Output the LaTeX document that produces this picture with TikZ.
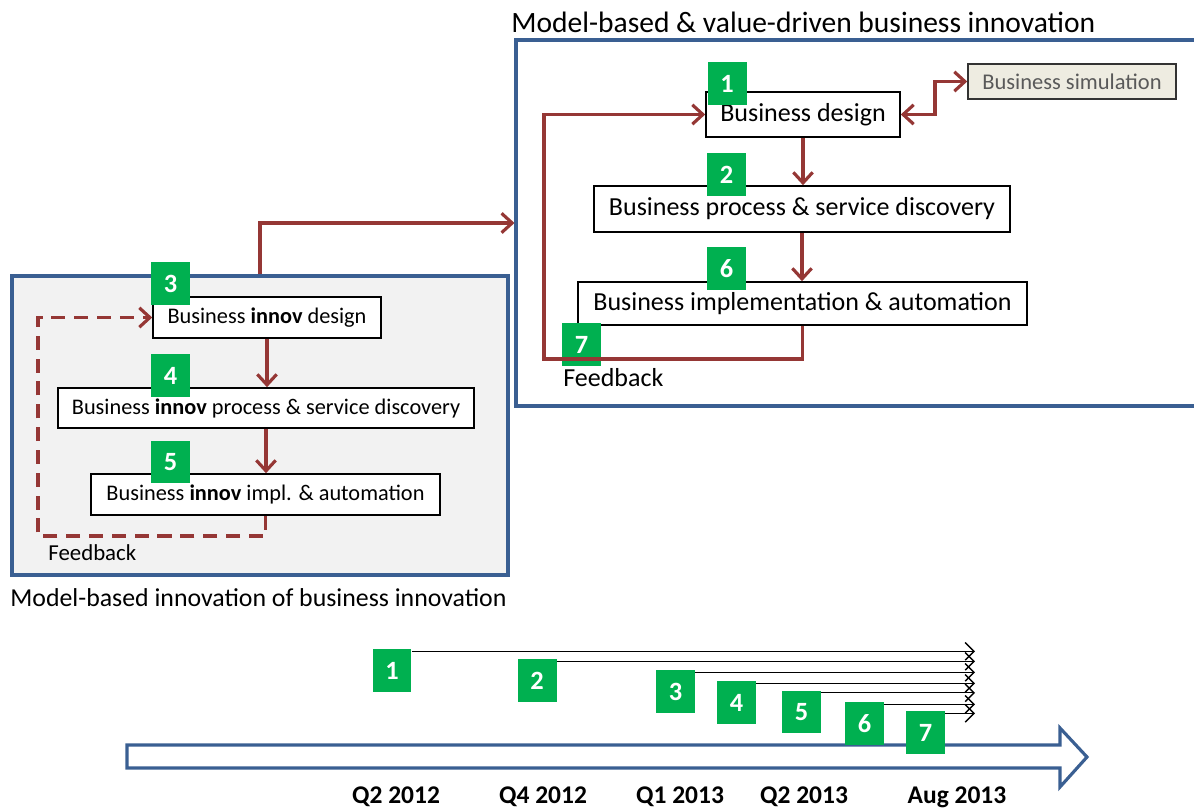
\documentclass[tikz,border=0pt]{standalone}
\usepackage{fontspec}
\setmainfont{Carlito}
\usetikzlibrary{arrows.meta,positioning}
\definecolor{flowred}{HTML}{953735}
\definecolor{frameblue}{HTML}{3A5F92}
\definecolor{badgegreen}{HTML}{00B050}
\definecolor{simbeige}{HTML}{EEECE1}
\tikzset{
  stepbox/.style={draw=black, fill=white, line width=0.9pt, inner sep=0pt},
  badge/.style={fill=badgegreen, text=white, font=\fontsize{15}{15}\selectfont\bfseries,
    minimum width=0.78cm, minimum height=0.86cm, inner sep=0pt},
  frame/.style={draw=frameblue, line width=1.8pt, inner sep=0pt},
  flow/.style={draw=flowred, line width=1.8pt, -{Straight Barb[length=6pt,width=11pt,line width=1.8pt]}},
  tl/.style={draw=black, line width=0.8pt, -{Straight Barb[length=5pt,width=10pt]}},
  bigtxt/.style={font=\fontsize{14.8}{14.8}\selectfont},
  smalltxt/.style={font=\fontsize{12.7}{12.7}\selectfont},
}
\begin{document}
\begin{tikzpicture}[x=0.02cm,y=-0.02cm]
\useasboundingbox (0,0) rectangle (1194,810);
\begin{scope}
\clip (0,0) rectangle (1194,810);
% containers
\node[frame, fill=white, minimum width=13.88cm, minimum height=7.32cm] (rbox) at (863,223) {};
\node[frame, fill=black!5, minimum width=9.92cm, minimum height=5.98cm] (lbox) at (260,425.5) {};
\end{scope}
\node[anchor=west, font=\fontsize{16.8}{16.8}\selectfont, inner sep=0pt] (rtitle) at (511,22) {Model-based \& value-driven business innovation};
\node[anchor=west, font=\fontsize{14.7}{14.7}\selectfont, inner sep=0pt] (ltitle) at (10,598) {Model-based innovation of business innovation};
% value-driven steps
\node[stepbox, bigtxt, minimum width=3.88cm, minimum height=0.9cm] (bd) at (803,114.5) {Business design};
\node[stepbox, bigtxt, minimum width=8.32cm, minimum height=0.92cm] (bp) at (802,209) {Business process \& service discovery};
\node[stepbox, bigtxt, minimum width=8.98cm, minimum height=0.86cm] (bi) at (802.5,303.5) {Business implementation \& automation};
\node[draw=black!80, fill=simbeige, line width=0.9pt, text=black!65, minimum width=4.16cm, minimum height=0.7cm, font=\fontsize{12.8}{12.8}\selectfont] (sim) at (1072,81.5) {Business simulation};
\node[badge] (b1) at (727,83.5) {1};
\node[badge] (b2) at (726.5,174.5) {2};
\node[badge] (b6) at (726.5,269) {6};
\node[badge] (b7) at (581.5,344.5) {7};
\node[anchor=west, bigtxt, inner sep=0pt] (rfb) at (563,378) {Feedback};
\coordinate (rloop) at (544,359);
\coordinate (simk) at (935,0);
\draw[flow] (bd.south) -- (bd.south |- bp.north);
\draw[flow] (bp.south) -- (bp.south |- bi.north);
\draw[flow] (bi.south) |- (rloop) |- (bd.west);
\draw[flow, {Straight Barb[length=6pt,width=11pt,line width=1.8pt]}-{Straight Barb[length=6pt,width=11pt,line width=1.8pt]}]
  (bd.east) -- (bd.east -| simk) |- (sim.west);
% innovation steps
\node[stepbox, smalltxt, minimum width=4.56cm, minimum height=0.82cm] (id) at (267,317.5) {Business \textbf{innov} design};
\node[stepbox, smalltxt, minimum width=8.32cm, minimum height=0.8cm] (ip) at (266,408) {Business \textbf{innov} process \& service discovery};
\node[stepbox, smalltxt, minimum width=6.98cm, minimum height=0.82cm] (ii) at (265.5,494.5) {Business \textbf{innov} impl. \& automation};
\node[badge] (b3) at (170.5,283.5) {3};
\node[badge] (b4) at (170.5,375.5) {4};
\node[badge] (b5) at (170.5,462) {5};
\node[anchor=west, font=\fontsize{13}{13}\selectfont, inner sep=0pt] (lfb) at (48,553) {Feedback};
\coordinate (lloop) at (38,536);
\draw[flow] (id.south) -- (id.south |- ip.north);
\draw[flow] (ip.south) -- (ip.south |- ii.north);
\draw[flow, dashed, dash pattern=on 8pt off 5pt] (ii.south) |- (lloop) |- (id.west);
\draw[flow] (lbox.north) |- (rbox.west);
% timeline
\draw[frameblue, line width=1.8pt, fill=white] (127,745) -- (1060,745) -- (1060,728) -- (1087,757)
  -- (1060,787) -- (1060,768) -- (127,768) -- cycle;
\node[badge] (t1) at (392,670.5) {1};
\node[badge] (t2) at (537,680.5) {2};
\node[badge] (t3) at (675.5,691.5) {3};
\node[badge] (t4) at (736.5,702.5) {4};
\node[badge] (t5) at (801.5,712) {5};
\node[badge] (t6) at (864.5,723.5) {6};
\node[badge] (t7) at (925.5,732.5) {7};
\coordinate (tend) at (975,0);
\foreach \n in {1,...,7}
  \draw[tl] ([yshift=-1.5pt]t\n.north east) -- ([yshift=-1.5pt]t\n.north east -| tend);
\foreach \x/\lbl in {396/Q2 2012, 543/Q4 2012, 680/Q1 2013, 804/Q2 2013, 957/Aug 2013}
  \node[font=\fontsize{14.5}{14.5}\selectfont\bfseries] (q\x) at (\x,797) {\lbl};
\end{tikzpicture}
\end{document}
